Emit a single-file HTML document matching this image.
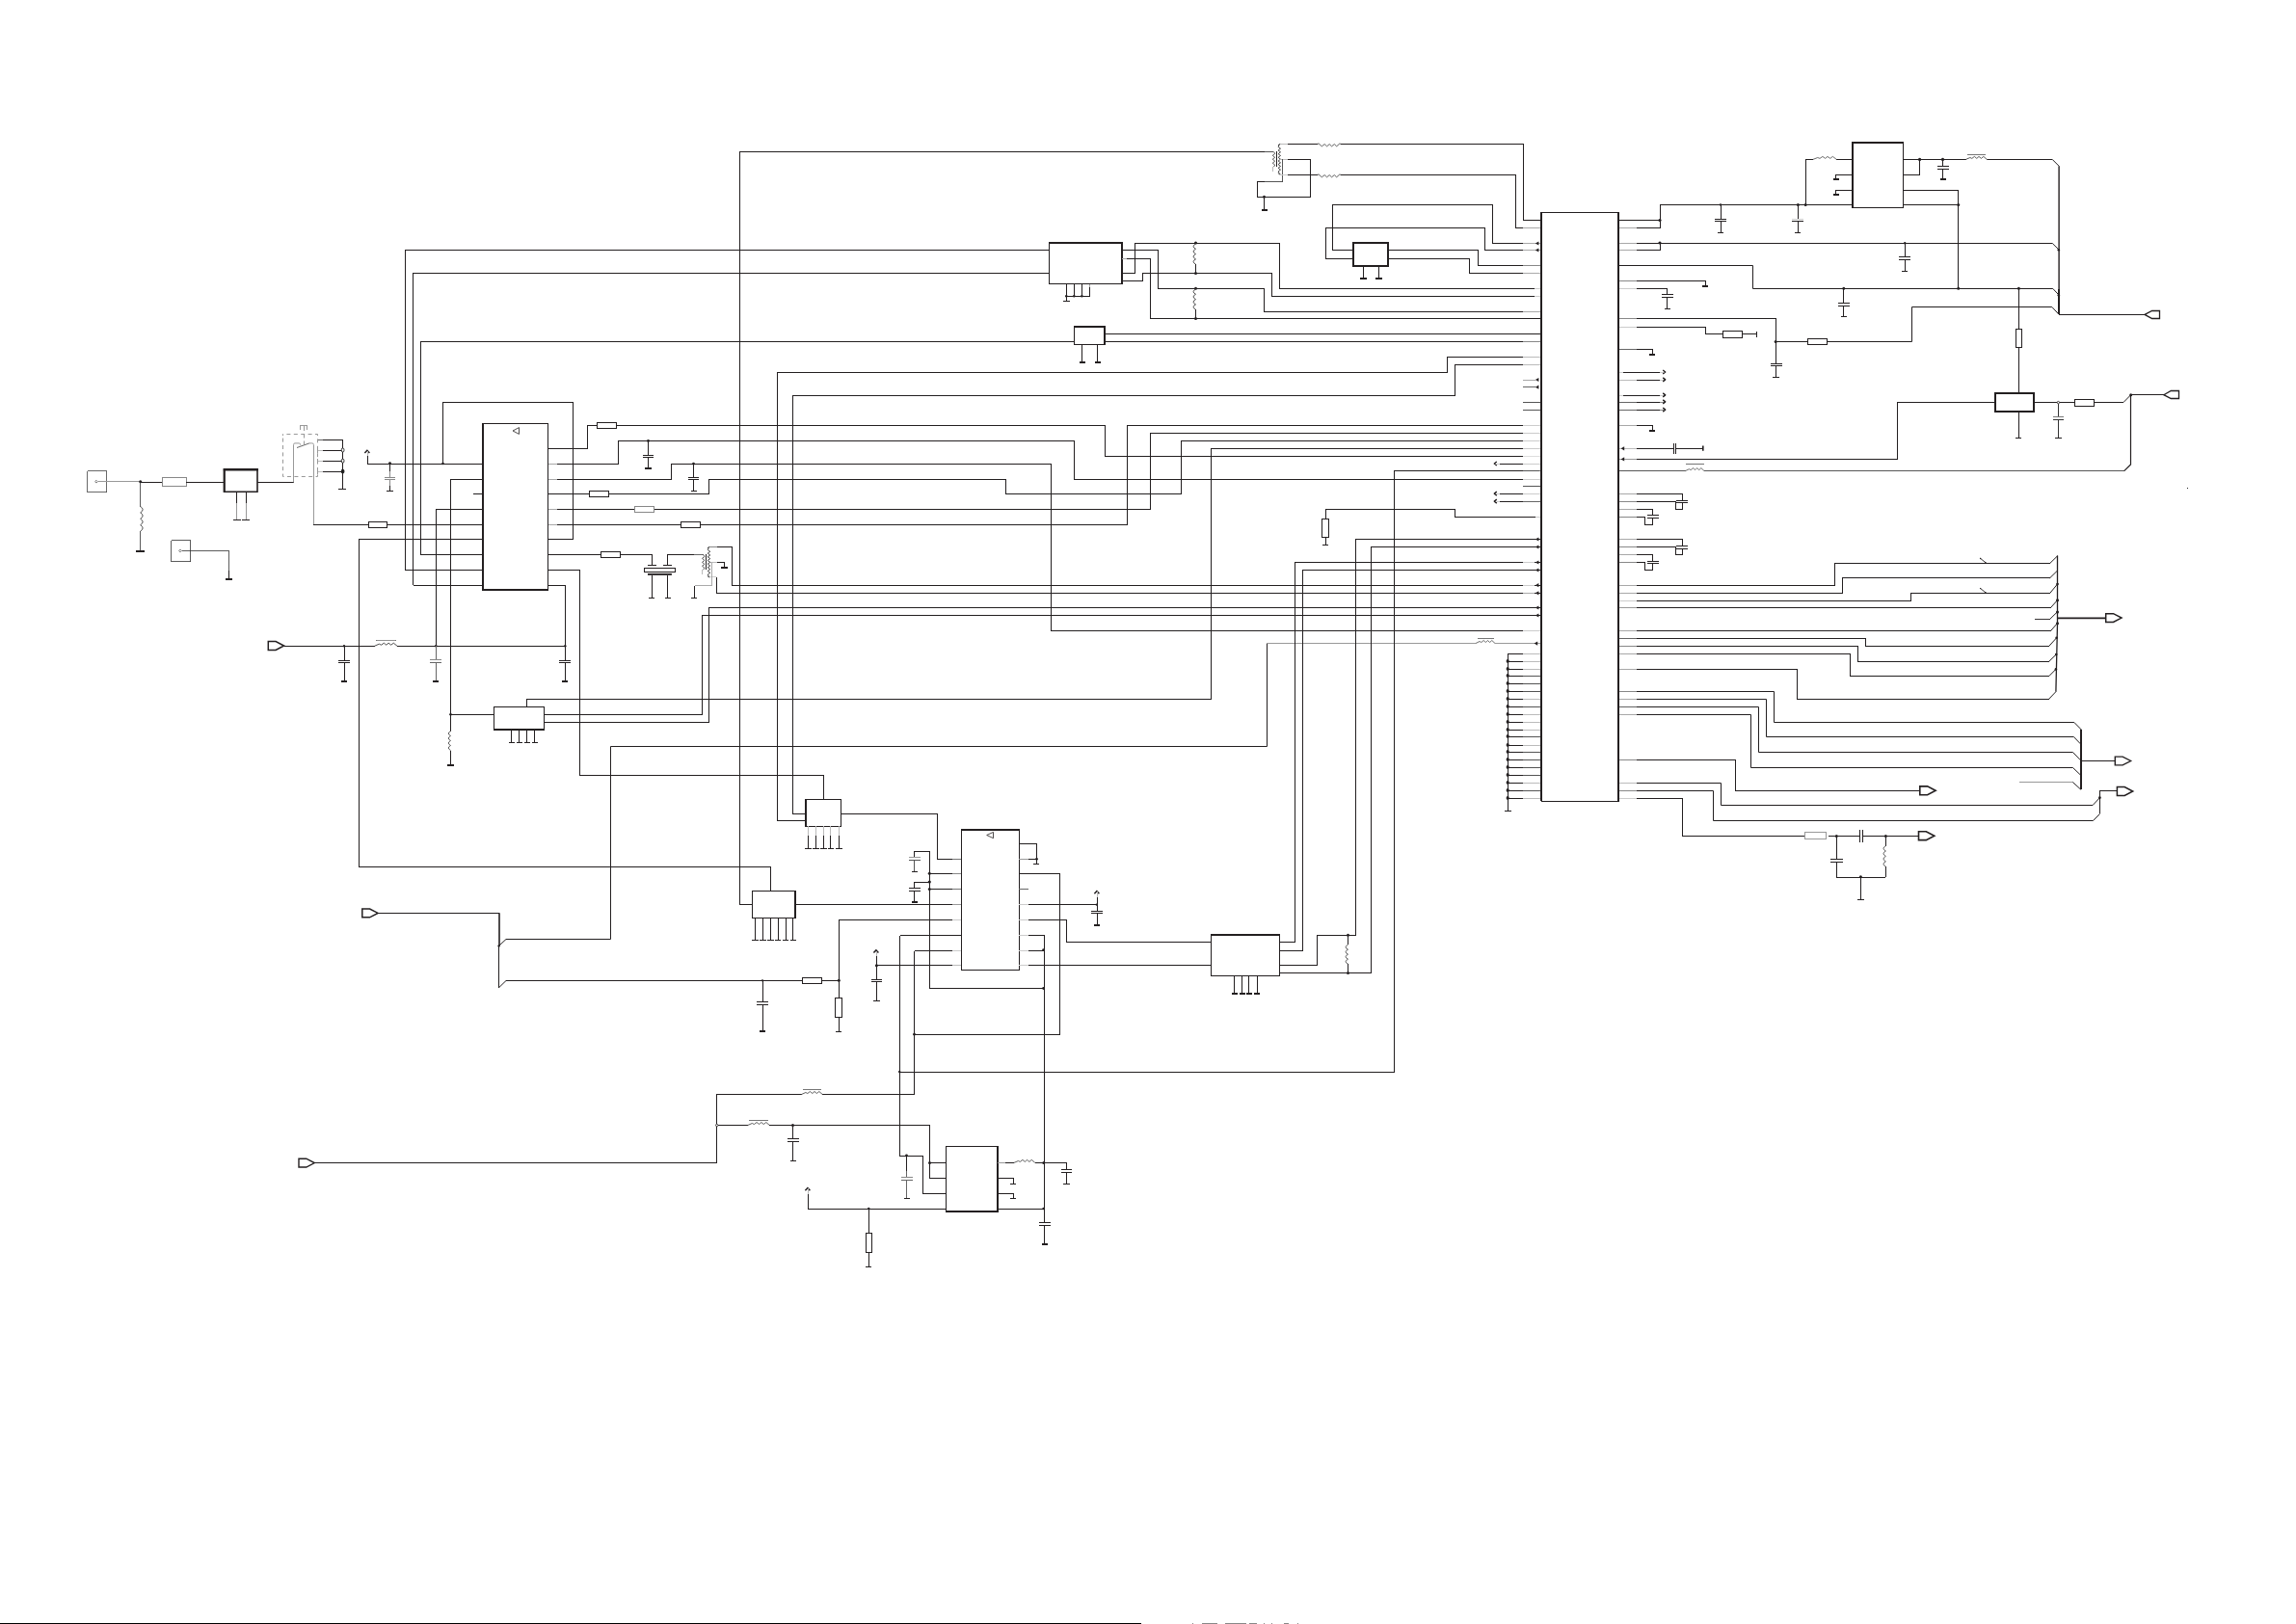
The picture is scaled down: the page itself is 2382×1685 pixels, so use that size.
<!DOCTYPE html><html><head><meta charset="utf-8"><title>Schematic</title><style>html,body{margin:0;padding:0;background:#fff;font-family:"Liberation Sans",sans-serif}svg{display:block}.c{shape-rendering:crispEdges}</style></head><body><svg width="2382" height="1685" viewBox="0 0 2382 1685" fill="none" stroke="#231f20" stroke-width="1" stroke-linecap="butt" stroke-linejoin="miter">
<path d="M1599.5 220.5 1679.5 220.5 1679.5 831.5 1599.5 831.5Z" class="c" stroke-width="1.2"/>
<path d="M1599 220.4 1599 831.3" class="c" stroke-width="2"/>
<path d="M1679 220.4 1679 831.3" class="c" stroke-width="2"/>
<path d="M90.5 488.5 110.5 488.5 110.5 510.5 90.5 510.5Z" class="c" stroke-width="0.8" stroke="#444"/>
<path d="M98.6 499.7 100 498.3 101.4 499.7 100 501.1Z" stroke-width="0.7" stroke="#444"/>
<path d="M101.5 499.5 145.7 499.5" class="c" stroke="#999"/>
<circle cx="145.7" cy="499.8" r="1.5" fill="#231f20" stroke="none"/>
<path d="M145.7 500.5 168 500.5" class="c"/>
<path d="M168.5 495.5 193.5 495.5 193.5 504.5 168.5 504.5Z" class="c" stroke="#888"/>
<path d="M193.2 500.5 232.5 500.5" class="c"/>
<path d="M145.5 499.8 145.5 525.5" class="c" stroke-width="0.8" stroke="#333"/>
<path d="M145.7 525.5 q4.8 3.2 0 6.4 q4.8 3.2 0 6.4 q4.8 3.2 0 6.4 q4.8 3.2 0 6.4" stroke="#444" stroke-width="0.95"/>
<path d="M145.5 551 145.5 571.7" class="c" stroke-width="0.8" stroke="#333"/>
<path d="M141.3 572 150.1 572" class="c" stroke-width="1.8"/>
<path d="M232.8 487 267 487 267 510.2 232.8 510.2Z" stroke-width="1.6"/>
<path d="M231.8 487.2 267.9 487.2" stroke-width="2.4"/>
<path d="M232.6 486.2 232.6 510.9" stroke-width="2"/>
<path d="M245.5 510.2 245.5 522" class="c"/>
<path d="M245.5 522 245.5 539.2" class="c" stroke="#999"/>
<path d="M241.5 539.5 249.5 539.5" class="c"/>
<path d="M255.5 510.2 255.5 522" class="c"/>
<path d="M255.5 522 255.5 539.2" class="c" stroke="#999"/>
<path d="M251.2 539.5 259.2 539.5" class="c"/>
<path d="M267.2 500.5 304.9 500.5" class="c"/>
<path d="M293.5 452V450.5H329.5V494.5H293.5V452" stroke="#999" stroke-dasharray="4 3.4" stroke-dashoffset="2"/>
<path d="M311.5 445.6 311.5 441.5 318.5 441.5 318.5 445.6" class="c" stroke="#999"/>
<path d="M315.5 441.5 315.5 446.5" class="c" stroke="#999"/>
<path d="M315.5 450.5V461" stroke="#999" stroke-dasharray="4 3"/>
<path d="M304.5 500.4V461.5Q304.5 459.9 306 459.9H310.2Q311.7 459.9 311.7 461.7" stroke="#999"/>
<path d="M308 464.5 320.9 459.9" stroke-width="0.9" stroke="#555"/>
<path d="M320.9 459.9H323.7Q325.5 459.9 325.5 461.5V544.2" stroke="#999"/>
<path d="M329.5 456.5 334.9 456.5" class="c" stroke="#666"/>
<path d="M334.9 456.5 355.6 456.5" class="c"/>
<path d="M329.5 467.5 334.9 467.5" class="c" stroke="#bbb"/>
<path d="M334.9 467.5 355.6 467.5" class="c"/>
<path d="M329.5 478.5 334.9 478.5" class="c" stroke="#bbb"/>
<path d="M334.9 478.5 355.6 478.5" class="c"/>
<path d="M329.5 489.5 334.9 489.5" class="c" stroke="#bbb"/>
<path d="M334.9 489.5 355.6 489.5" class="c"/>
<path d="M329.5 464.6 329.5 470" class="c" stroke="#999"/>
<path d="M329.5 475.8 329.5 481.2" class="c" stroke="#999"/>
<path d="M329.5 486.6 329.5 492" class="c" stroke="#999"/>
<path d="M355.5 456.5 355.5 507.4" class="c"/>
<rect x="354.3" y="465.1" width="2.6" height="3.8" rx="1.1" fill="#fff" stroke="#1c1c1c" stroke-width="0.9"/>
<rect x="354.3" y="476.3" width="2.6" height="3.8" rx="1.1" fill="#fff" stroke="#1c1c1c" stroke-width="0.9"/>
<rect x="354.3" y="487.2" width="2.6" height="3.8" rx="1.1" fill="#1c1c1c" stroke="#1c1c1c" stroke-width="0.9"/>
<path d="M351.2 507.5 359.2 507.5" class="c"/>
<path d="M177.5 560.5 197.5 560.5 197.5 582.5 177.5 582.5Z" class="c" stroke-width="0.8" stroke="#333"/>
<path d="M185.6 571.5 187 570.1 188.4 571.5 187 572.9Z" stroke-width="0.7" stroke="#444"/>
<path d="M188.5 571.5 237.5 571.5 237.5 592" class="c" stroke-width="0.8" stroke="#333"/>
<path d="M237.5 592 237.5 600.6" class="c"/>
<path d="M234.1 601 240.9 601" class="c" stroke-width="1.8"/>
<path d="M378.4 470L380.9 467.3L383.4 470" stroke="#231f20" stroke-width="1.5" stroke-linejoin="miter"/>
<path d="M381.5 468.2 381.5 473.4" class="c" stroke="#bbb"/>
<path d="M381.5 473.4 381.5 481" class="c"/>
<path d="M381.2 481.5 501.2 481.5" class="c"/>
<circle cx="404.5" cy="480.6" r="1.4" fill="#231f20" stroke="none"/>
<circle cx="459.5" cy="481" r="1.3" fill="#231f20" stroke="none"/>
<path d="M404.5 481 404.5 488.5" class="c"/>
<path d="M404.5 488.5 404.5 504" class="c" stroke="#888"/>
<path d="M398.6 495.5 409.9 495.5" class="c" stroke="#888"/>
<path d="M398.6 497.5 409.9 497.5" class="c" stroke="#888"/>
<rect x="403.5" y="496.1" width="2" height="1" fill="#fff" stroke="none"/>
<path d="M404.5 504 404.5 509.6" class="c"/>
<path d="M401 509.5 407.8 509.5" class="c"/>
<path d="M459.5 481 459.5 417.5 594.5 417.5 594.5 559.5 568.5 559.5" class="c"/>
<path d="M501.5 439.5 568.5 439.5 568.5 612.5 501.5 612.5Z" class="c" stroke-width="1.3"/>
<path d="M501 439.2 501 612 568.5 612" class="c" stroke-width="2"/>
<path d="M538.5 443.6 538.5 450.4 532 447Z" stroke-width="0.8"/>
<path d="M420.5 591.5 501.2 591.5" class="c"/>
<path d="M420.5 591.5 420.5 259.5 1088.5 259.5" class="c"/>
<path d="M428.5 607.5 501.2 607.5" class="c"/>
<path d="M428.5 607.2 428.5 283.5 1088.5 283.5" class="c"/>
<path d="M436.5 575.5 501.2 575.5" class="c"/>
<path d="M436.5 575.5 436.5 354.5 1114.5 354.5" class="c"/>
<path d="M467.5 497.5 501.2 497.5" class="c"/>
<path d="M467.5 497.2 467.5 758.5" class="c"/>
<path d="M467.5 758.5 q-4.4 2.5 0 5 q-4.4 2.5 0 5 q-4.4 2.5 0 5 q-4.4 2.5 0 5" stroke="#555" stroke-width="0.95"/>
<path d="M467.5 778.5 467.5 793.6" class="c"/>
<path d="M464.1 794 470.9 794" class="c" stroke-width="1.8"/>
<path d="M491.2 512.5 501.2 512.5" class="c"/>
<path d="M452.5 528.5 501.2 528.5" class="c"/>
<path d="M452.5 528.2 452.5 670.2" class="c"/>
<path d="M325.2 544.5 362 544.5" class="c" stroke-width="1.3"/>
<path d="M362 544.5 382.5 544.5" class="c"/>
<path d="M382.5 541.5 401.5 541.5 401.5 547.5 382.5 547.5Z" class="c"/>
<path d="M401.5 544.5 501.2 544.5" class="c"/>
<path d="M372.5 559.5 501.2 559.5" class="c"/>
<path d="M372.5 559.2 372.5 899.5 799.5 899.5 799.5 924.5" class="c"/>
<path d="M568.5 465.5 609.5 465.5 609.5 441.5 619.2 441.5" class="c"/>
<path d="M619.5 438.5 639.5 438.5 639.5 444.5 619.5 444.5Z" class="c"/>
<path d="M639.7 441.5 1146.5 441.5 1146.5 473.5 1599 473.5" class="c"/>
<path d="M568.5 481.5 578 481.5" class="c" stroke="#a8a8a8"/>
<path d="M578 481.5 641.5 481.5 641.5 457.5 1114.5 457.5 1114.5 497.5 1599 497.5" class="c"/>
<circle cx="672.5" cy="457.5" r="1.4" fill="#231f20" stroke="none"/>
<path d="M672.5 457.5 672.5 472.3" class="c"/>
<path d="M667 472.5 678 472.5" class="c"/>
<path d="M667 474.5 678 474.5" class="c"/>
<path d="M672.5 474.8 672.5 486" class="c"/>
<path d="M669.1 486 675.9 486" class="c" stroke-width="1.8"/>
<path d="M568.5 497.5 578 497.5" class="c" stroke="#a8a8a8"/>
<path d="M578 497.5 696.5 497.5 696.5 481.5 1090.5 481.5 1090.5 654.5 1599 654.5" class="c"/>
<circle cx="719.5" cy="481.2" r="1.4" fill="#231f20" stroke="none"/>
<path d="M719.5 481.2 719.5 495.3" class="c"/>
<path d="M713.7 495.5 725.3 495.5" class="c"/>
<path d="M713.7 497.5 725.3 497.5" class="c"/>
<path d="M719.5 497.8 719.5 509.3" class="c"/>
<path d="M716.5 509.5 722.5 509.5" class="c"/>
<path d="M568.5 512.5 611.2 512.5" class="c"/>
<path d="M611.5 509.5 631.5 509.5 631.5 515.5 611.5 515.5Z" class="c"/>
<path d="M631.7 512.5 735.5 512.5 735.5 497.5 1043.5 497.5 1043.5 512.5 1225.5 512.5 1225.5 457.5 1599 457.5" class="c"/>
<path d="M568.5 528.5 578 528.5" class="c" stroke="#a8a8a8"/>
<path d="M578 528.5 658.2 528.5" class="c"/>
<path d="M658.5 525.5 678.5 525.5 678.5 531.5 658.5 531.5Z" class="c" stroke="#888"/>
<path d="M678.5 528.5 1193.5 528.5 1193.5 449.5 1599 449.5" class="c"/>
<path d="M568.5 544.5 578 544.5" class="c" stroke="#a8a8a8"/>
<path d="M578 544.5 706.5 544.5" class="c"/>
<path d="M706.5 541.5 726.5 541.5 726.5 547.5 706.5 547.5Z" class="c"/>
<path d="M726.7 544.5 1169.5 544.5 1169.5 441.5 1599 441.5" class="c"/>
<path d="M568.5 575.5 623.2 575.5" class="c"/>
<path d="M623.5 572.5 643.5 572.5 643.5 578.5 623.5 578.5Z" class="c"/>
<path d="M643.7 575.5 676.5 575.5 676.5 586.4" class="c"/>
<path d="M568.5 591.5 601.5 591.5 601.5 804.5 854.5 804.5 854.5 829.5" class="c"/>
<path d="M568.5 607.5 586.5 607.5 586.5 670.2" class="c"/>
<path d="M672 586.5 680.9 586.5" class="c"/>
<path d="M688 586.5 697 586.5" class="c"/>
<path d="M668.5 589.5 700.5 589.5 700.5 593.5 668.5 593.5Z" class="c"/>
<path d="M672 595.9 696.9 595.9" stroke-width="1.9"/>
<path d="M676.5 596.5 676.5 620.4" class="c"/>
<path d="M673.4 620.5 679.4 620.5" class="c"/>
<path d="M692.5 596.5 692.5 620.4" class="c"/>
<path d="M689.6 620.5 695.6 620.5" class="c"/>
<path d="M692.5 586.4 692.5 575.5 720 575.5" class="c"/>
<path d="M720 575.5 730 575.5" class="c" stroke="#666"/>
<path d="M729.7 575.5 L730.9 577.5 L728.5 579.4 L730.9 581.4 L728.5 583.4 L730.9 585.3 L728.5 587.3 L730.9 589.2 L729.7 591.2" stroke="#444" stroke-width="0.9" stroke-linejoin="round"/>
<path d="M728.5 591.2 728.5 595.8" class="c" stroke="#bbb"/>
<path d="M732.5 575.2 732.5 591.2" class="c" stroke-width="1.2"/>
<path d="M735.5 568.6 L734.2 570.4 L736.8 572.3 L734.2 574.1 L736.8 576 L734.2 577.8 L736.8 579.6 L734.2 581.5 L736.8 583.3 L734.2 585.1 L736.8 587 L734.2 588.8 L736.8 590.6 L734.2 592.5 L736.8 594.3 L734.2 596.2 L735.5 598" stroke="#333" stroke-width="0.9" stroke-linejoin="round"/>
<path d="M736.4 567.5Q734.3 567.5 734.3 569" stroke="#333" stroke-width="0.95"/>
<path d="M736.4 598.9Q734.3 598.9 734.3 597.6" stroke="#333" stroke-width="0.95"/>
<path d="M736.2 567.5 743.9 567.5" class="c" stroke="#888"/>
<path d="M743.9 567.5 759.5 567.5 759.5 607.5 1599 607.5" class="c"/>
<path d="M736.6 583.5 743.9 583.5" class="c" stroke="#bbb"/>
<path d="M743.9 583.5 751.5 583.5 751.5 589" class="c"/>
<path d="M748.2 589 754.9 589" class="c" stroke-width="1.9"/>
<path d="M736.2 598.5 743.4 598.5" class="c" stroke="#ccc"/>
<path d="M743.5 599 743.5 615.5 1599 615.5" class="c"/>
<path d="M738.5 583.4 738.5 607.5 720.5 607.5" class="c" stroke="#aaa"/>
<path d="M720.5 607.5 720.5 620.4" class="c"/>
<path d="M717.2 620.5 723.2 620.5" class="c"/>
<path d="M278.3 665.6 286.1 665.6 294.6 670 286.1 674.4 278.3 674.4Z" stroke-width="1.5"/>
<path d="M294.6 670.5 388.7 670.5" class="c"/>
<path d="M388.7 670.2 L393.4 668.2 L395.5 669.2 L398.3 667.2 L400.8 669.2 L403.1 667.2 L405.7 669.2 L408.3 667.2 L412 670.2" stroke="#444" stroke-width="0.95" stroke-linejoin="round"/>
<path d="M390.2 664.5 410.5 664.5" class="c" stroke-width="0.9" stroke="#666"/>
<path d="M390.7 664.5 410 664.5" class="c" stroke-width="0.8" stroke="#999"/>
<path d="M412 670.5 586.5 670.5" class="c"/>
<circle cx="357" cy="670.2" r="1.2" fill="#231f20" stroke="none"/>
<circle cx="452.3" cy="670.2" r="1.3" fill="#231f20" stroke="none"/>
<circle cx="586.3" cy="670.2" r="1.2" fill="#231f20" stroke="none"/>
<path d="M357.5 670.2 357.5 685.3" class="c"/>
<path d="M351.1 685.5 362.9 685.5" class="c"/>
<path d="M351.1 687.5 362.9 687.5" class="c"/>
<path d="M357.5 687.8 357.5 706.8" class="c"/>
<path d="M354 707 360 707" class="c" stroke-width="1.8"/>
<path d="M452.5 670.2 452.5 684.3" class="c" stroke="#666"/>
<path d="M446.4 684.5 458.2 684.5" class="c" stroke="#888"/>
<path d="M446.4 687.5 458.2 687.5" class="c" stroke="#666"/>
<path d="M452.5 687.3 452.5 706.8" class="c" stroke="#666"/>
<path d="M449.3 707 455.3 707" class="c" stroke-width="1.8"/>
<path d="M586.5 670.2 586.5 685.3" class="c"/>
<path d="M580.4 685.5 592.2 685.5" class="c"/>
<path d="M580.4 687.5 592.2 687.5" class="c"/>
<path d="M586.5 687.8 586.5 706.8" class="c"/>
<path d="M583.3 707 589.3 707" class="c" stroke-width="1.8"/>
<path d="M512.5 733.5 564.5 733.5 564.5 757.5 512.5 757.5Z" class="c"/>
<path d="M512.5 757 564.5 757" class="c" stroke-width="2"/>
<path d="M467.5 741.5 512.5 741.5" class="c"/>
<circle cx="467.5" cy="741.2" r="1.3" fill="#231f20" stroke="none"/>
<path d="M546.5 733.6 546.5 725.5 1256.5 725.5 1256.5 465.5 1599 465.5" class="c"/>
<path d="M564.5 741.5 728.5 741.5 728.5 638.5 1599 638.5" class="c"/>
<path d="M564.5 749.5 735.5 749.5 735.5 630.5 1599 630.5" class="c"/>
<path d="M530.5 757.2 530.5 770.5" class="c"/>
<path d="M527.7 770.5 533.7 770.5" class="c"/>
<path d="M538.5 757.2 538.5 770.5" class="c"/>
<path d="M535.7 770.5 541.7 770.5" class="c"/>
<path d="M546.5 757.2 546.5 770.5" class="c"/>
<path d="M543.5 770.5 549.5 770.5" class="c"/>
<path d="M554.5 757.2 554.5 770.5" class="c"/>
<path d="M551.5 770.5 557.5 770.5" class="c"/>
<path d="M1320.5 157.5 767.5 157.5 767.5 938.5 780.5 938.5" class="c"/>
<path d="M806.5 851.5 806.5 386.5 1501.5 386.5 1501.5 370.5 1599 370.5" class="c"/>
<path d="M806.7 851.5 835.7 851.5" class="c"/>
<path d="M822.5 844.5 822.5 410.5 1509.5 410.5 1509.5 378.5 1599 378.5" class="c"/>
<path d="M822.5 844.5 835.7 844.5" class="c"/>
<path d="M517.8 981.2 525 974.5 633.5 974.5 633.5 774.5 1314.5 774.5 1314.5 667.5"/>
<path d="M1314.5 667.5 1531 667.5" class="c" stroke="#999"/>
<path d="M1531 667.5 L1535 665.5 L1536.8 666.5 L1539.2 664.5 L1541.4 666.5 L1543.4 664.5 L1545.6 666.5 L1547.8 664.5 L1551 667.5" stroke="#666" stroke-width="0.95" stroke-linejoin="round"/>
<path d="M1532.5 662.5 1549.5 662.5" class="c" stroke-width="0.9" stroke="#666"/>
<path d="M1551 667.5 1598 667.5" class="c" stroke="#999"/>
<path d="M1088.5 251.5 1164.5 251.5 1164.5 294.5 1088.5 294.5Z" class="c"/>
<path d="M1088.4 252 1164 252 1164 294.5" class="c" stroke-width="2"/>
<path d="M1106.5 294.5 1106.5 307.3" class="c"/>
<circle cx="1106.3" cy="307.3" r="1.3" fill="#231f20" stroke="none"/>
<path d="M1114.5 294.5 1114.5 307.3" class="c"/>
<circle cx="1114.3" cy="307.3" r="1.3" fill="#231f20" stroke="none"/>
<path d="M1122.5 294.5 1122.5 307.3" class="c"/>
<circle cx="1122.4" cy="307.3" r="1.3" fill="#231f20" stroke="none"/>
<path d="M1130.5 294.5 1130.5 298" class="c" stroke="#a8a8a8"/>
<path d="M1130.5 298 1130.5 307.5 1106.3 307.5" class="c"/>
<path d="M1106.5 307.3 1106.5 312.6" class="c"/>
<path d="M1102.9 312.5 1109.7 312.5" class="c"/>
<path d="M1164.2 259.5 1201.5 259.5 1201.5 299.5 1311.5 299.5 1311.5 323.5 1580 323.5" class="c"/>
<path d="M1580 323.5 1598 323.5" class="c" stroke="#a8a8a8"/>
<path d="M1164.2 268.5 1168.5 268.5" class="c" stroke="#a8a8a8"/>
<path d="M1168.5 268.5 1193.5 268.5 1193.5 330.5 1599 330.5" class="c"/>
<path d="M1164.2 283.5 1177.5 283.5 1177.5 252.5 1327.5 252.5 1327.5 299.5 1592 299.5" class="c"/>
<path d="M1592 299.5 1598 299.5" class="c" stroke="#ccc"/>
<path d="M1164.2 291.5 1185.5 291.5 1185.5 283.5 1319.5 283.5 1319.5 307.5 1592 307.5" class="c"/>
<path d="M1592 307.5 1598 307.5" class="c" stroke="#ccc"/>
<circle cx="1240.5" cy="252" r="1.5" fill="#231f20" stroke="none"/>
<circle cx="1240.5" cy="283.5" r="1.5" fill="#231f20" stroke="none"/>
<path d="M1240.5 253 q-4.8 2.6 0 5.3 q-4.8 2.6 0 5.3 q-4.8 2.6 0 5.3 q-4.8 2.6 0 5.3" stroke="#444" stroke-width="0.95"/>
<path d="M1240.5 274.2 1240.5 283.5" class="c"/>
<circle cx="1240.5" cy="299.2" r="1.5" fill="#231f20" stroke="none"/>
<circle cx="1240.5" cy="330.5" r="1.5" fill="#231f20" stroke="none"/>
<path d="M1240.5 300 q-4.8 2.6 0 5.3 q-4.8 2.6 0 5.3 q-4.8 2.6 0 5.3 q-4.8 2.6 0 5.3" stroke="#444" stroke-width="0.95"/>
<path d="M1240.5 321.2 1240.5 330.5" class="c"/>
<path d="M1114.5 338.5 1146.5 338.5 1146.5 357.5 1114.5 357.5Z" class="c"/>
<path d="M1114.5 339 1146 339 1146 357.4" class="c" stroke-width="2"/>
<path d="M1122.5 357.4 1122.5 375.8" class="c"/>
<path d="M1119.7 376 1125.5 376" class="c" stroke-width="1.8"/>
<path d="M1138.5 357.4 1138.5 375.8" class="c"/>
<path d="M1135.7 376 1141.5 376" class="c" stroke-width="1.8"/>
<path d="M1146 346.5 1599 346.5" class="c"/>
<path d="M1146 354.5 1580 354.5" class="c"/>
<path d="M1580 354.5 1598 354.5" class="c" stroke="#888"/>
<path d="M1312 157.5 1320.9 157.5" class="c" stroke="#555"/>
<path d="M1321.5 157.4 L1322.7 159.4 L1320.3 161.3 L1322.7 163.3 L1320.3 165.2 L1322.7 167.2 L1320.3 169.2 L1322.7 171.1 L1321.5 173.1" stroke="#444" stroke-width="0.9" stroke-linejoin="round"/>
<path d="M1320.5 173.1 1320.5 178" class="c" stroke="#bbb"/>
<path d="M1324.5 157.2 1324.5 172.8" class="c" stroke-width="1.2"/>
<path d="M1327.3 150.5 L1326.1 152.3 L1328.5 154.2 L1326.1 156 L1328.5 157.8 L1326.1 159.7 L1328.5 161.5 L1326.1 163.3 L1328.5 165.2 L1326.1 167 L1328.5 168.8 L1326.1 170.6 L1328.5 172.5 L1326.1 174.3 L1328.5 176.1 L1326.1 178 L1327.3 179.8" stroke="#333" stroke-width="0.9" stroke-linejoin="round"/>
<path d="M1328.6 149.4Q1326.3 149.4 1326.3 151" stroke="#333" stroke-width="0.95"/>
<path d="M1328.6 181Q1326.3 181 1326.3 179.5" stroke="#333" stroke-width="0.95"/>
<path d="M1328.4 149.5 1335.7 149.5" class="c" stroke="#bbb"/>
<path d="M1335.7 149.5 1367 149.5" class="c"/>
<path d="M1367 149.4 L1368 148.8 L1371.3 151.8 L1374.2 149.6 L1376.6 151.8 L1379.2 149.6 L1381.6 151.8 L1384.3 149.6 L1386.7 151.8 L1389.8 149 L1391 149.4" stroke="#555" stroke-width="0.95" stroke-linejoin="round"/>
<path d="M1391 149.5 1580.5 149.5 1580.5 228.5 1599 228.5" class="c"/>
<path d="M1328.4 165.5 1335.7 165.5" class="c" stroke="#bbb"/>
<path d="M1335.7 165.5 1359.5 165.5 1359.5 204.5 1304.5 204.5 1304.5 188.5 1312 188.5" class="c"/>
<path d="M1312 188.5 1330.5 188.5 1330.5 165.3" class="c" stroke-width="0.9" stroke="#444"/>
<path d="M1328.4 181.5 1335.7 181.5" class="c" stroke="#ccc"/>
<path d="M1336.1 181.5 1367 181.5" class="c"/>
<path d="M1367 181.4 L1368 180.8 L1371.3 183.8 L1374.2 181.6 L1376.6 183.8 L1379.2 181.6 L1381.6 183.8 L1384.3 181.6 L1386.7 183.8 L1389.8 181 L1391 181.4" stroke="#555" stroke-width="0.95" stroke-linejoin="round"/>
<path d="M1391 181.5 1572.5 181.5 1572.5 236.5 1580 236.5" class="c"/>
<path d="M1580 236.5 1598 236.5" class="c" stroke="#a8a8a8"/>
<circle cx="1311.5" cy="204.3" r="1.5" fill="#231f20" stroke="none"/>
<path d="M1311.5 204.3 1311.5 218" class="c"/>
<path d="M1308.5 218 1314.5 218" class="c" stroke-width="1.8"/>
<path d="M1404 252 1440 252 1440 276 1404 276Z" class="c" stroke-width="2"/>
<path d="M1414.5 276.3 1414.5 288.8" class="c"/>
<path d="M1411.3 289 1417.7 289" class="c" stroke-width="1.8"/>
<path d="M1430.5 276.3 1430.5 288.8" class="c"/>
<path d="M1427.3 289 1433.7 289" class="c" stroke-width="1.8"/>
<path d="M1403.7 259.5 1382.5 259.5 1382.5 212.5 1548.5 212.5 1548.5 252.5 1580 252.5" class="c"/>
<path d="M1580 252.5 1598 252.5" class="c" stroke="#a8a8a8"/>
<path d="M1592.8 252.5l3.6 -2.1v4.2z" fill="#231f20" stroke="none"/>
<path d="M1403.7 268.5 1375.5 268.5 1375.5 236.5 1540.5 236.5 1540.5 259.5 1580 259.5" class="c"/>
<path d="M1580 259.5 1598 259.5" class="c" stroke="#a8a8a8"/>
<path d="M1592.8 259.5l3.6 -2.1v4.2z" fill="#231f20" stroke="none"/>
<path d="M1440 259.5 1533.5 259.5 1533.5 275.5 1580 275.5" class="c"/>
<path d="M1580 275.5 1598 275.5" class="c" stroke="#888"/>
<path d="M1440 268.5 1524.5 268.5 1524.5 283.5 1599 283.5" class="c"/>
<path d="M1580 394.5 1592.8 394.5" class="c" stroke="#a8a8a8"/>
<path d="M1592.8 394l3.6 -2.1v4.2z" fill="#231f20" stroke="none"/>
<path d="M1580 401.5 1592.8 401.5" class="c" stroke="#666"/>
<path d="M1592.8 401.7l3.6 -2.1v4.2z" fill="#231f20" stroke="none"/>
<path d="M1580 417.5 1599 417.5" class="c" stroke="#555"/>
<path d="M1580 425.5 1599 425.5" class="c" stroke="#555"/>
<path d="M1580 504.5 1599 504.5" class="c" stroke="#555"/>
<path d="M1580 481.5 1599 481.5" class="c" stroke="#ccc"/>
<path d="M1556.3 481.5 1580 481.5" class="c"/>
<path d="M1553 481.5 1556.3 481.5" class="c" stroke="#ccc"/>
<path d="M1552.8 479L1550.3 481L1552.8 483" stroke="#231f20" stroke-width="1.4" stroke-linejoin="round"/>
<path d="M1580 512.5 1599 512.5" class="c" stroke="#ccc"/>
<path d="M1556.3 512.5 1580 512.5" class="c"/>
<path d="M1553 512.5 1556.3 512.5" class="c" stroke="#ccc"/>
<path d="M1552.8 510.1L1550.3 512.1L1552.8 514.1" stroke="#231f20" stroke-width="1.4" stroke-linejoin="round"/>
<path d="M1580 520.5 1599 520.5" class="c" stroke="#666"/>
<path d="M1556.3 520.5 1580 520.5" class="c"/>
<path d="M1553 520.5 1556.3 520.5" class="c" stroke="#ccc"/>
<path d="M1552.8 518.1L1550.3 520.1L1552.8 522.1" stroke="#231f20" stroke-width="1.4" stroke-linejoin="round"/>
<path d="M1593 536.5 1599 536.5" class="c" stroke="#ccc"/>
<path d="M1593 536.5 1509.5 536.5 1509.5 528.5 1375.5 528.5 1375.5 538.3" class="c"/>
<path d="M1371.5 538.5 1378.5 538.5 1378.5 557.5 1371.5 557.5Z" class="c"/>
<path d="M1375.5 557.5 1375.5 565.3" class="c"/>
<path d="M1372.2 565.5 1378.2 565.5" class="c"/>
<path d="M1592.8 559.5l3.6 -2.1v4.2z" fill="#231f20" stroke="none"/>
<path d="M1592.8 567.5l3.6 -2.1v4.2z" fill="#231f20" stroke="none"/>
<path d="M1592.8 583.5l3.6 -2.1v4.2z" fill="#231f20" stroke="none"/>
<path d="M1592.8 591.5l3.6 -2.1v4.2z" fill="#231f20" stroke="none"/>
<path d="M1592.8 607.2l3.6 -2.1v4.2z" fill="#231f20" stroke="none"/>
<path d="M1592.8 615.3l3.6 -2.1v4.2z" fill="#231f20" stroke="none"/>
<path d="M1592.8 630.5l3.6 -2.1v4.2z" fill="#231f20" stroke="none"/>
<path d="M1592.8 638.5l3.6 -2.1v4.2z" fill="#231f20" stroke="none"/>
<path d="M1591.6 667.6l3.6 -2.1v4.2z" fill="#231f20" stroke="none"/>
<path d="M1564.5 678.2 1564.5 841.3" class="c"/>
<path d="M1561.1 841.5 1567.5 841.5" class="c"/>
<path d="M1564.6 678.5 1580 678.5" class="c"/>
<path d="M1580 678.5 1599 678.5" class="c" stroke="#bbb"/>
<path d="M1564.6 686.5 1580 686.5" class="c"/>
<path d="M1580 686.5 1599 686.5" class="c" stroke="#bbb"/>
<ellipse cx="1564.2" cy="685.9" rx="1.55" ry="1.85" fill="#231f20" stroke="none"/>
<path d="M1564.6 694.5 1580 694.5" class="c"/>
<path d="M1580 694.5 1599 694.5" class="c" stroke="#bbb"/>
<ellipse cx="1564.2" cy="693.9" rx="1.55" ry="1.85" fill="#231f20" stroke="none"/>
<path d="M1564.6 701.5 1580 701.5" class="c"/>
<path d="M1580 701.5 1599 701.5" class="c" stroke="#555"/>
<ellipse cx="1564.2" cy="700.9" rx="1.55" ry="1.85" fill="#231f20" stroke="none"/>
<path d="M1564.6 709.5 1580 709.5" class="c"/>
<path d="M1580 709.5 1599 709.5" class="c" stroke="#555"/>
<ellipse cx="1564.2" cy="708.9" rx="1.55" ry="1.85" fill="#231f20" stroke="none"/>
<path d="M1564.6 717.5 1580 717.5" class="c"/>
<path d="M1580 717.5 1599 717.5" class="c" stroke="#555"/>
<ellipse cx="1564.2" cy="716.9" rx="1.55" ry="1.85" fill="#231f20" stroke="none"/>
<path d="M1564.6 725.5 1580 725.5" class="c"/>
<path d="M1580 725.5 1599 725.5" class="c" stroke="#bbb"/>
<ellipse cx="1564.2" cy="724.9" rx="1.55" ry="1.85" fill="#231f20" stroke="none"/>
<path d="M1564.6 733.5 1580 733.5" class="c"/>
<path d="M1580 733.5 1599 733.5" class="c" stroke="#555"/>
<ellipse cx="1564.2" cy="732.9" rx="1.55" ry="1.85" fill="#231f20" stroke="none"/>
<path d="M1564.6 741.5 1580 741.5" class="c"/>
<path d="M1580 741.5 1599 741.5" class="c" stroke="#bbb"/>
<ellipse cx="1564.2" cy="740.9" rx="1.55" ry="1.85" fill="#231f20" stroke="none"/>
<path d="M1564.6 749.5 1580 749.5" class="c"/>
<path d="M1580 749.5 1599 749.5" class="c" stroke="#bbb"/>
<ellipse cx="1564.2" cy="748.9" rx="1.55" ry="1.85" fill="#231f20" stroke="none"/>
<path d="M1564.6 757.5 1580 757.5" class="c"/>
<path d="M1580 757.5 1599 757.5" class="c" stroke="#bbb"/>
<ellipse cx="1564.2" cy="756.9" rx="1.55" ry="1.85" fill="#231f20" stroke="none"/>
<path d="M1564.6 764.5 1580 764.5" class="c"/>
<path d="M1580 764.5 1599 764.5" class="c" stroke="#555"/>
<ellipse cx="1564.2" cy="763.9" rx="1.55" ry="1.85" fill="#231f20" stroke="none"/>
<path d="M1564.6 773.5 1580 773.5" class="c"/>
<path d="M1580 773.5 1599 773.5" class="c" stroke="#bbb"/>
<ellipse cx="1564.2" cy="772.9" rx="1.55" ry="1.85" fill="#231f20" stroke="none"/>
<path d="M1564.6 780.5 1580 780.5" class="c"/>
<path d="M1580 780.5 1599 780.5" class="c" stroke="#555"/>
<ellipse cx="1564.2" cy="779.9" rx="1.55" ry="1.85" fill="#231f20" stroke="none"/>
<path d="M1564.6 788.5 1580 788.5" class="c"/>
<path d="M1580 788.5 1599 788.5" class="c" stroke="#555"/>
<ellipse cx="1564.2" cy="787.9" rx="1.55" ry="1.85" fill="#231f20" stroke="none"/>
<path d="M1564.6 796.5 1580 796.5" class="c"/>
<path d="M1580 796.5 1599 796.5" class="c" stroke="#555"/>
<ellipse cx="1564.2" cy="795.9" rx="1.55" ry="1.85" fill="#231f20" stroke="none"/>
<path d="M1564.6 804.5 1580 804.5" class="c"/>
<path d="M1580 804.5 1599 804.5" class="c" stroke="#555"/>
<ellipse cx="1564.2" cy="803.9" rx="1.55" ry="1.85" fill="#231f20" stroke="none"/>
<path d="M1564.6 812.5 1580 812.5" class="c"/>
<path d="M1580 812.5 1599 812.5" class="c" stroke="#bbb"/>
<ellipse cx="1564.2" cy="811.9" rx="1.55" ry="1.85" fill="#231f20" stroke="none"/>
<path d="M1564.6 820.5 1580 820.5" class="c"/>
<path d="M1580 820.5 1599 820.5" class="c" stroke="#555"/>
<ellipse cx="1564.2" cy="819.9" rx="1.55" ry="1.85" fill="#231f20" stroke="none"/>
<path d="M1564.6 828.5 1580 828.5" class="c"/>
<path d="M1580 828.5 1599 828.5" class="c" stroke="#bbb"/>
<ellipse cx="1564.2" cy="827.9" rx="1.55" ry="1.85" fill="#231f20" stroke="none"/>
<path d="M1921.5 147.5 1974.5 147.5 1974.5 215.5 1921.5 215.5Z" class="c"/>
<path d="M1922 215.4 1922 148 1974.7 148" class="c" stroke-width="2"/>
<path d="M1921.9 165.5 1905.3 165.5" class="c"/>
<path d="M1880.9 165.4 L1885.8 163.5 L1888 164.4 L1890.9 162.4 L1893.6 164.4 L1896 162.4 L1898.7 164.4 L1901.4 162.4 L1905.3 165.4" stroke="#666" stroke-width="0.95" stroke-linejoin="round"/>
<path d="M1880.9 165.5 1873.5 165.5 1873.5 212.4" class="c"/>
<path d="M1921.9 181.5 1904.5 181.5 1904.5 185.9" class="c"/>
<path d="M1901.9 186 1907.7 186" class="c" stroke-width="1.8"/>
<path d="M1921.9 197.5 1904.5 197.5 1904.5 202" class="c"/>
<path d="M1901.9 202 1907.7 202" class="c" stroke-width="1.8"/>
<path d="M1679.3 228.5 1722 228.5" class="c"/>
<circle cx="1722" cy="228.5" r="1.6" fill="#231f20" stroke="none"/>
<path d="M1722.5 236.5 1722.5 212.5 1921.9 212.5" class="c"/>
<path d="M1680.3 236.5 1698 236.5" class="c" stroke="#a8a8a8"/>
<path d="M1698 236.5 1722 236.5" class="c"/>
<circle cx="1785" cy="212.4" r="1.2" fill="#231f20" stroke="none"/>
<circle cx="1865.4" cy="212.4" r="1.5" fill="#231f20" stroke="none"/>
<circle cx="1873.2" cy="212.4" r="1.5" fill="#231f20" stroke="none"/>
<path d="M1785.5 212.4 1785.5 227.3" class="c"/>
<path d="M1779 227.5 1791 227.5" class="c"/>
<path d="M1779 229.5 1791 229.5" class="c"/>
<path d="M1785.5 229.9 1785.5 241.5" class="c"/>
<path d="M1782 241.5 1788 241.5" class="c"/>
<path d="M1865.5 212.4 1865.5 227.3" class="c"/>
<path d="M1859.4 227.5 1871.4 227.5" class="c" stroke="#ccc"/>
<path d="M1859.4 229.5 1871.4 229.5" class="c"/>
<path d="M1865.5 229.9 1865.5 241.5" class="c"/>
<path d="M1862.4 241.5 1868.4 241.5" class="c"/>
<path d="M1974.7 165.5 2039.5 165.5" class="c"/>
<circle cx="1991.6" cy="165.4" r="1.6" fill="#231f20" stroke="none"/>
<circle cx="2015.5" cy="165.4" r="1.6" fill="#231f20" stroke="none"/>
<path d="M1974.7 181.5 1991.5 181.5 1991.5 165.4" class="c"/>
<path d="M2015.5 165.4 2015.5 172.3" class="c"/>
<path d="M2009.5 172.5 2021.5 172.5" class="c"/>
<path d="M2009.5 175.5 2021.5 175.5" class="c"/>
<path d="M2015.5 175 2015.5 185.9" class="c"/>
<path d="M2012.5 186 2018.5 186" class="c" stroke-width="1.8"/>
<path d="M2039.5 165.4 L2043.9 163.5 L2045.8 164.4 L2048.4 162.4 L2050.8 164.4 L2053 162.4 L2055.4 164.4 L2057.8 162.4 L2061.3 165.4" stroke="#555" stroke-width="0.95" stroke-linejoin="round"/>
<path d="M2041 160.5 2059.8 160.5" class="c" stroke-width="0.9" stroke="#666"/>
<path d="M2061.3 165.5 2129.3 165.5 2136.1 172.3"/>
<path d="M1974.7 197.5 2031.5 197.5 2031.5 299.3" class="c"/>
<path d="M1974.7 212.5 2031.7 212.5" class="c"/>
<circle cx="2031.7" cy="212.4" r="1.5" fill="#231f20" stroke="none"/>
<circle cx="2031.7" cy="299.3" r="1.5" fill="#231f20" stroke="none"/>
<path d="M2136.1 172.3 2136.1 300" stroke-width="1.4"/>
<path d="M2136 300 2136 326.3" class="c" stroke-width="1.9"/>
<path d="M1680.3 252.5 1698 252.5" class="c" stroke="#a8a8a8"/>
<path d="M1698 252.5 2129.3 252.5 2136.1 259.2"/>
<circle cx="1722" cy="252" r="1.6" fill="#231f20" stroke="none"/>
<circle cx="2135.8" cy="259.2" r="1.3" fill="#231f20" stroke="none"/>
<path d="M1722.5 252.3 1722.5 259.6" class="c"/>
<path d="M1680.3 259.5 1698 259.5" class="c" stroke="#a8a8a8"/>
<path d="M1698 259.5 1722 259.5" class="c"/>
<circle cx="1976.2" cy="252.3" r="1.2" fill="#231f20" stroke="none"/>
<path d="M1976.5 252.3 1976.5 266.4" class="c"/>
<path d="M1970.4 266.5 1982 266.5" class="c"/>
<path d="M1970.4 269.5 1982 269.5" class="c"/>
<path d="M1976.5 269.4 1976.5 281.6" class="c"/>
<path d="M1973.2 281.5 1979.2 281.5" class="c"/>
<path d="M1679.3 275.5 1818.5 275.5 1818.5 299.5 2129.8 299.5 2136.1 306.2"/>
<circle cx="2135.8" cy="306.2" r="1.3" fill="#231f20" stroke="none"/>
<circle cx="1912.8" cy="299.3" r="1.5" fill="#231f20" stroke="none"/>
<path d="M1912.5 299.3 1912.5 314.4" class="c"/>
<path d="M1906.8 314.5 1918.8 314.5" class="c"/>
<path d="M1906.8 317.5 1918.8 317.5" class="c"/>
<path d="M1912.5 317 1912.5 328.3" class="c"/>
<path d="M1909.8 328.5 1915.8 328.5" class="c"/>
<circle cx="2094.4" cy="299.3" r="1.5" fill="#231f20" stroke="none"/>
<path d="M2094.5 299.3 2094.5 341.4" class="c"/>
<path d="M2091.5 341.5 2097.5 341.5 2097.5 360.5 2091.5 360.5Z" class="c"/>
<path d="M2094.5 360.8 2094.5 407.5" class="c"/>
<path d="M1680.3 291.5 1698 291.5" class="c" stroke="#888"/>
<path d="M1698 291.5 1769.5 291.5 1769.5 297" class="c"/>
<path d="M1766.3 297 1772.1 297" class="c" stroke-width="1.8"/>
<path d="M1680.3 299.5 1698 299.5" class="c" stroke="#ccc"/>
<path d="M1698 299.5 1729.6 299.5" class="c"/>
<path d="M1729.5 299.3 1729.5 305.7" class="c"/>
<path d="M1723.6 305.5 1735.6 305.5" class="c"/>
<path d="M1723.6 308.5 1735.6 308.5" class="c"/>
<path d="M1729.5 308.4 1729.5 320.5" class="c"/>
<path d="M1726.6 320.5 1732.6 320.5" class="c"/>
<path d="M1680.3 330.5 1698 330.5" class="c" stroke="#888"/>
<path d="M1698 330.5 1842.5 330.5 1842.5 377" class="c"/>
<circle cx="1842.2" cy="354.5" r="1.5" fill="#231f20" stroke="none"/>
<path d="M1842.5 377 1842.5 377.2" class="c"/>
<path d="M1836.5 377.5 1848.5 377.5" class="c"/>
<path d="M1836.5 379.5 1848.5 379.5" class="c"/>
<path d="M1842.5 379.6 1842.5 391.4" class="c"/>
<path d="M1839.1 391.5 1845.9 391.5" class="c"/>
<path d="M1680.3 339.5 1698 339.5" class="c" stroke="#ccc"/>
<path d="M1698 339.5 1769.5 339.5 1769.5 346.5 1787.5 346.5" class="c"/>
<path d="M1787.5 343.5 1807.5 343.5 1807.5 350.5 1787.5 350.5Z" class="c"/>
<path d="M1807.7 346.5 1822.9 346.5" class="c"/>
<path d="M1822.5 343.7 1822.5 349.6" class="c"/>
<path d="M1842.5 354.5 1875.3 354.5" class="c"/>
<path d="M1875.5 351.5 1895.5 351.5 1895.5 357.5 1875.5 357.5Z" class="c"/>
<path d="M1895.7 354.5 1983.5 354.5 1983.5 318.5 2128.8 318.5 2136.1 326.3"/>
<path d="M1680.3 362.5 1698 362.5" class="c" stroke="#666"/>
<path d="M1698 362.5 1714.5 362.5 1714.5 368" class="c"/>
<path d="M1711.1 368 1716.9 368" class="c" stroke-width="1.8"/>
<path d="M2136.1 326.5 2225.1 326.5" class="c"/>
<path d="M2225.1 326.4 2232.6 322.5 2240.5 322.5 2240.5 330.5 2232.6 330.5Z" stroke-width="1.3"/>
<path d="M1680.3 386.5 1684.3 386.5" class="c" stroke="#ccc"/>
<path d="M1684.3 386.5 1722 386.5" class="c"/>
<path d="M1722 386.5 1726 386.5" class="c" stroke="#ccc"/>
<path d="M1725.2 384L1727.7 386L1725.2 388" stroke="#231f20" stroke-width="1.4" stroke-linejoin="round"/>
<path d="M1680.3 394.5 1698 394.5" class="c" stroke="#bbb"/>
<path d="M1698 394.5 1722 394.5" class="c"/>
<path d="M1722 394.5 1726 394.5" class="c" stroke="#ccc"/>
<path d="M1725.2 391.9L1727.7 393.9L1725.2 395.9" stroke="#231f20" stroke-width="1.4" stroke-linejoin="round"/>
<path d="M1680.3 410.5 1684.3 410.5" class="c" stroke="#ccc"/>
<path d="M1684.3 410.5 1722 410.5" class="c"/>
<path d="M1722 410.5 1726 410.5" class="c" stroke="#ccc"/>
<path d="M1725.2 407.9L1727.7 409.9L1725.2 411.9" stroke="#231f20" stroke-width="1.4" stroke-linejoin="round"/>
<path d="M1680.3 417.5 1698 417.5" class="c" stroke="#666"/>
<path d="M1698 417.5 1722 417.5" class="c"/>
<path d="M1722 417.5 1726 417.5" class="c" stroke="#888"/>
<path d="M1725.2 414.9L1727.7 416.9L1725.2 418.9" stroke="#231f20" stroke-width="1.4" stroke-linejoin="round"/>
<path d="M1680.3 425.5 1698 425.5" class="c" stroke="#666"/>
<path d="M1698 425.5 1722 425.5" class="c"/>
<path d="M1722 425.5 1726 425.5" class="c" stroke="#888"/>
<path d="M1725.2 423.1L1727.7 425.1L1725.2 427.1" stroke="#231f20" stroke-width="1.4" stroke-linejoin="round"/>
<path d="M1680.3 441.5 1698 441.5" class="c" stroke="#a8a8a8"/>
<path d="M1698 441.5 1714.5 441.5 1714.5 446.6" class="c"/>
<path d="M1711.1 447 1716.9 447" class="c" stroke-width="1.8"/>
<path d="M1680.3 465.5 1698 465.5" class="c" stroke="#bbb"/>
<path d="M1681.6 465.3l3.6 -2.1v4.2z" fill="#231f20" stroke="none"/>
<path d="M1698 465.5 1736.4 465.5" class="c"/>
<path d="M1736.5 459.5 1736.5 471.1" class="c"/>
<path d="M1738.5 459.5 1738.5 471.1" class="c"/>
<path d="M1738.9 465.5 1766.8 465.5" class="c"/>
<path d="M1766.8 462.5 1766.8 467.8" stroke-width="1.6"/>
<path d="M1680.3 476.5 1698 476.5" class="c" stroke="#999"/>
<path d="M1681.6 476.4l3.6 -2.1v4.2z" fill="#231f20" stroke="none"/>
<path d="M1698 476.5 1968.5 476.5 1968.5 417.5 2070.4 417.5" class="c"/>
<path d="M1679.3 488.5 1748.5 488.5" class="c" stroke-width="0.9" stroke="#444"/>
<path d="M1748.5 488.6 L1752.4 486.7 L1754.2 487.6 L1756.5 485.6 L1758.6 487.6 L1760.6 485.6 L1762.7 487.6 L1764.9 485.6 L1768 488.6" stroke="#666" stroke-width="0.95" stroke-linejoin="round"/>
<path d="M1748.5 481.5 1768 481.5" class="c" stroke-width="0.9" stroke="#666"/>
<path d="M1768 488.5 2203.7 488.5" class="c" stroke-width="0.9" stroke="#444"/>
<path d="M2203.7 488.6 2210.5 482 2210.5 409.7" stroke-width="1.2"/>
<path d="M2070 408 2110 408 2110 427 2070 427Z" class="c" stroke-width="2"/>
<path d="M2110.5 417.5 2152.5 417.5" class="c"/>
<circle cx="2135.4" cy="417.6" r="1.2" fill="#fff" stroke="#231f20" stroke-width="0.8"/>
<path d="M2135.5 418.8 2135.5 432.7" class="c" stroke="#333"/>
<path d="M2129.6 432.5 2141.2 432.5" class="c" stroke="#777"/>
<path d="M2129.6 435.5 2141.2 435.5" class="c" stroke="#333"/>
<path d="M2135.5 435.1 2135.5 454.5" class="c" stroke="#333"/>
<path d="M2132 454.5 2138.8 454.5" class="c"/>
<path d="M2152.5 414.5 2172.5 414.5 2172.5 421.5 2152.5 421.5Z" class="c"/>
<path d="M2172 417.5 2203 417.5 2210.7 409.7"/>
<circle cx="2210.7" cy="409.7" r="1.5" fill="#231f20" stroke="none"/>
<path d="M2210.7 409.5 2244.8 409.5" class="c"/>
<path d="M2244.8 409.7 2252.3 405.5 2260.5 405.5 2260.5 413.5 2252.3 413.5Z" stroke-width="1.3"/>
<path d="M2094.5 427.1 2094.5 454.5" class="c"/>
<path d="M2090.9 454.5 2097.1 454.5" class="c"/>
<rect x="2269" y="506" width="1" height="1" fill="#222" stroke="none"/>
<path d="M1680.3 512.5 1698 512.5" class="c" stroke="#a8a8a8"/>
<path d="M1698 512.5 1745.5 512.5 1745.5 519.1" class="c"/>
<path d="M1739.4 519.5 1751.4 519.5" class="c"/>
<path d="M1739.4 521.5 1751.4 521.5" class="c"/>
<path d="M1745.5 521.7 1745.5 528.5 1738.5 528.5 1738.5 520.5 1698 520.5" class="c"/>
<path d="M1680.3 520.5 1698 520.5" class="c" stroke="#888"/>
<path d="M1680.3 528.5 1698 528.5" class="c" stroke="#a8a8a8"/>
<path d="M1698 528.5 1714.5 528.5 1714.5 534.4" class="c"/>
<path d="M1708.7 534.5 1720.7 534.5" class="c"/>
<path d="M1708.7 537.5 1720.7 537.5" class="c"/>
<path d="M1714.5 537.4 1714.5 544.5 1706.5 544.5 1706.5 536.5 1698 536.5" class="c"/>
<path d="M1680.3 536.5 1698 536.5" class="c" stroke="#888"/>
<path d="M1680.3 559.5 1698 559.5" class="c" stroke="#a8a8a8"/>
<path d="M1698 559.5 1745.5 559.5 1745.5 566.5" class="c"/>
<path d="M1739.4 566.5 1751.4 566.5" class="c"/>
<path d="M1739.4 569.5 1751.4 569.5" class="c"/>
<path d="M1745.5 569.2 1745.5 575.5 1738.5 575.5 1738.5 567.5 1698 567.5" class="c"/>
<path d="M1680.3 567.5 1698 567.5" class="c" stroke="#888"/>
<path d="M1680.3 575.5 1698 575.5" class="c" stroke="#a8a8a8"/>
<path d="M1698 575.5 1714.5 575.5 1714.5 582.2" class="c"/>
<path d="M1708.7 582.5 1720.7 582.5" class="c"/>
<path d="M1708.7 584.5 1720.7 584.5" class="c"/>
<path d="M1714.5 584.6 1714.5 591.5 1706.5 591.5 1706.5 583.5 1698 583.5" class="c"/>
<path d="M1680.3 583.5 1698 583.5" class="c" stroke="#888"/>
<path d="M1680.3 607.5 1698 607.5" class="c" stroke="#a8a8a8"/>
<path d="M1698 607.5 1903.5 607.5 1903.5 584.5 2126.7 584.5" class="c"/>
<path d="M2126.7 584.5 2134.7 576.7"/>
<path d="M1680.3 615.5 1698 615.5" class="c" stroke="#a8a8a8"/>
<path d="M1698 615.5 1911.5 615.5 1911.5 599.5 2126.7 599.5" class="c"/>
<path d="M2126.7 599.7 2134.7 591.9"/>
<path d="M1680.3 623.5 1698 623.5" class="c" stroke="#ccc"/>
<path d="M1698 623.5 1982.5 623.5 1982.5 615.5 2126.7 615.5" class="c"/>
<path d="M2126.7 615.5 2134.7 605.8"/>
<circle cx="2134.5" cy="606" r="1.3" fill="#231f20" stroke="none"/>
<path d="M1680.3 630.5 1698 630.5" class="c" stroke="#999"/>
<path d="M1698 630.5 2127.5 630.5" class="c"/>
<path d="M2127.5 630.5 2134.7 622.5"/>
<circle cx="2134.5" cy="622.8" r="1.5" fill="#231f20" stroke="none"/>
<path d="M2111 642.5 2126.7 642.5" class="c" stroke-width="0.9"/>
<path d="M2126.7 642.4 2134.7 634.6"/>
<circle cx="2134.5" cy="634.9" r="1.5" fill="#231f20" stroke="none"/>
<path d="M1680.3 654.5 1698 654.5" class="c" stroke="#a8a8a8"/>
<path d="M1698 654.5 2127.5 654.5" class="c"/>
<path d="M2127.5 654.6 2134.7 646.4"/>
<circle cx="2134.5" cy="646.7" r="1.5" fill="#231f20" stroke="none"/>
<path d="M1680.3 662.5 1698 662.5" class="c" stroke="#666"/>
<path d="M1698 662.5 1935.5 662.5 1935.5 670.5 2125.8 670.5" class="c"/>
<path d="M2125.8 670.3 2133.8 661.6"/>
<circle cx="2133.6" cy="661.8" r="1.3" fill="#231f20" stroke="none"/>
<path d="M1680.3 670.5 1698 670.5" class="c" stroke="#888"/>
<path d="M1698 670.5 1927.5 670.5 1927.5 686.5 2125.8 686.5" class="c"/>
<path d="M2125.8 686.3 2133.4 678.9"/>
<circle cx="2133.2" cy="679.1" r="1.3" fill="#231f20" stroke="none"/>
<path d="M1680.3 678.5 1698 678.5" class="c" stroke="#a8a8a8"/>
<path d="M1698 678.5 1919.5 678.5 1919.5 701.5 2125.8 701.5" class="c"/>
<path d="M2125.8 701.5 2133.1 694.2"/>
<circle cx="2132.9" cy="694.4" r="1.3" fill="#231f20" stroke="none"/>
<path d="M1680.3 694.5 1698 694.5" class="c" stroke="#a8a8a8"/>
<path d="M1698 694.5 1864.5 694.5 1864.5 725.5 2125.6 725.5" class="c"/>
<path d="M2125.6 725.3 2132.9 717.7"/>
<path d="M2134.5 576.6 2134.5 647.1 2132.9 717.7" stroke-width="1.3"/>
<path d="M2134.7 641.3 2184.7 641.3" stroke-width="1.7"/>
<path d="M2184.7 636.7 2192.5 636.7 2201 641.1 2192.5 645.5 2184.7 645.5Z" stroke-width="1.5"/>
<path d="M2054.3 579.2 2060.2 583.9" stroke-width="0.9"/>
<circle cx="2054.6" cy="579.5" r="0.7" fill="#231f20" stroke="none"/>
<circle cx="2059.8" cy="583.8" r="0.9" fill="#231f20" stroke="none"/>
<path d="M2054.3 610.3 2060.2 615" stroke-width="0.9"/>
<circle cx="2054.6" cy="610.6" r="0.7" fill="#231f20" stroke="none"/>
<circle cx="2059.8" cy="614.9" r="0.9" fill="#231f20" stroke="none"/>
<path d="M1680.3 717.5 1698 717.5" class="c" stroke="#888"/>
<path d="M1698 717.5 1840.5 717.5 1840.5 749.5 2151.9 749.5 2159.3 757"/>
<path d="M1680.3 725.5 1698 725.5" class="c" stroke="#a8a8a8"/>
<path d="M1698 725.5 1832.5 725.5 1832.5 764.5 2151.4 764.5 2158.4 771.8"/>
<path d="M1680.3 733.5 1698 733.5" class="c" stroke="#666"/>
<path d="M1698 733.5 1824.5 733.5 1824.5 780.5 2150.5 780.5 2158.4 788.7"/>
<path d="M1680.3 741.5 1698 741.5" class="c" stroke="#a8a8a8"/>
<path d="M1698 741.5 1816.5 741.5 1816.5 796.5 2150.5 796.5 2158.4 804"/>
<path d="M2095.3 811.5 2150.5 811.5" class="c" stroke="#999"/>
<path d="M2150.5 811.6 2158.9 819.3"/>
<path d="M2159 757 2159 819.3" class="c" stroke-width="1.9"/>
<path d="M2159.3 789.5 2194.3 789.5" class="c" stroke-width="1.2"/>
<path d="M2194.3 785.1 2202.1 785.1 2210.6 789.5 2202.1 793.9 2194.3 793.9Z" stroke-width="1.4"/>
<path d="M1680.3 788.5 1698 788.5" class="c" stroke="#888"/>
<path d="M1698 788.5 1800.5 788.5 1800.5 820.5 1991.8 820.5" class="c"/>
<path d="M1991.8 815.9 1999.6 815.9 2008.1 820.3 1999.6 824.7 1991.8 824.7Z" stroke-width="1.6"/>
<path d="M1680.3 812.5 1698 812.5" class="c" stroke="#bbb"/>
<path d="M1698 812.5 1785.5 812.5 1785.5 835.5 2171.1 835.5 2178.6 827.5"/>
<circle cx="2178.4" cy="827.7" r="1.4" fill="#231f20" stroke="none"/>
<path d="M1680.3 820.5 1698 820.5" class="c" stroke="#888"/>
<path d="M1698 820.5 1777.5 820.5 1777.5 851.5 2171.6 851.5 2178.6 844.4"/>
<path d="M2178.5 844.4 2178.5 820.5 2196.4 820.5" class="c"/>
<path d="M2196.4 816.6 2204.2 816.6 2212.7 821 2204.2 825.4 2196.4 825.4Z" stroke-width="1.5"/>
<path d="M1680.3 828.5 1698 828.5" class="c" stroke="#ccc"/>
<path d="M1698 828.5 1745.5 828.5 1745.5 867.5 1872.3 867.5" class="c"/>
<path d="M1872.5 863.5 1894.5 863.5 1894.5 870.5 1872.5 870.5Z" class="c" stroke="#999"/>
<path d="M1897 867.5 1929.7 867.5" class="c"/>
<path d="M1929.5 861.2 1929.5 873.7" class="c"/>
<path d="M1932.5 861.2 1932.5 873.7" class="c"/>
<path d="M1932.3 867.5 1990.5 867.5" class="c"/>
<path d="M1990.5 862.8 1998.3 862.8 2006.8 867.2 1998.3 871.6 1990.5 871.6Z" stroke-width="1.6"/>
<circle cx="1905.3" cy="867.5" r="1.5" fill="#231f20" stroke="none"/>
<circle cx="1956.4" cy="867.5" r="1.5" fill="#231f20" stroke="none"/>
<path d="M1905.5 867.5 1905.5 891.2" class="c"/>
<path d="M1899 891.5 1911.6 891.5" class="c"/>
<path d="M1899 894.5 1911.6 894.5" class="c"/>
<path d="M1905.5 894.6 1905.5 910.4" class="c"/>
<path d="M1956.5 867.5 1956.5 877.6" class="c"/>
<path d="M1956.4 877.6 q-4.8 2.7 0 5.4 q-4.8 2.7 0 5.4 q-4.8 2.7 0 5.4 q-4.8 2.7 0 5.4" stroke="#555" stroke-width="0.95"/>
<path d="M1956.5 899.3 1956.5 910.4" class="c"/>
<path d="M1905.3 910.5 1956.4 910.5" class="c"/>
<circle cx="1930.4" cy="909.8" r="1.5" fill="#231f20" stroke="none"/>
<path d="M1930.5 910.4 1930.5 933.4" class="c"/>
<path d="M1927.1 933.5 1933.7 933.5" class="c"/>
<path d="M835.5 829.5 872.5 829.5 872.5 857.5 835.5 857.5Z" class="c"/>
<path d="M836 829.4 836 857.3" class="c" stroke-width="2"/>
<path d="M838.5 857.3 838.5 867" class="c" stroke="#bbb"/>
<path d="M838.5 867 838.5 880.5" class="c"/>
<path d="M835.1 880.5 841.5 880.5" class="c"/>
<path d="M846.5 857.3 846.5 867" class="c" stroke="#bbb"/>
<path d="M846.5 867 846.5 880.5" class="c"/>
<path d="M843.1 880.5 849.5 880.5" class="c"/>
<path d="M854.5 857.3 854.5 867" class="c" stroke="#bbb"/>
<path d="M854.5 867 854.5 880.5" class="c"/>
<path d="M851.1 880.5 857.5 880.5" class="c"/>
<path d="M861.5 857.3 861.5 867" class="c" stroke="#bbb"/>
<path d="M861.5 867 861.5 880.5" class="c"/>
<path d="M858.7 880.5 865.1 880.5" class="c"/>
<path d="M870.5 857.3 870.5 867" class="c" stroke="#bbb"/>
<path d="M870.5 867 870.5 880.5" class="c"/>
<path d="M867.1 880.5 873.5 880.5" class="c"/>
<path d="M872.6 844.5 972.5 844.5 972.5 891.5 988 891.5" class="c"/>
<path d="M988 891.5 997.4 891.5" class="c" stroke="#777"/>
<path d="M780.5 924.5 825.5 924.5 825.5 952.5 780.5 952.5Z" class="c"/>
<path d="M825 924.5 825 952.5" class="c" stroke-width="2"/>
<path d="M783.5 952.5 783.5 975.5" class="c"/>
<path d="M780.3 975.5 786.7 975.5" class="c"/>
<path d="M791.5 952.5 791.5 975.5" class="c"/>
<path d="M788.3 975.5 794.7 975.5" class="c"/>
<path d="M799.5 952.5 799.5 975.5" class="c"/>
<path d="M796.3 975.5 802.7 975.5" class="c"/>
<path d="M807.5 952.5 807.5 975.5" class="c"/>
<path d="M803.8 975.5 810.2 975.5" class="c"/>
<path d="M815.5 952.5 815.5 975.5" class="c"/>
<path d="M811.8 975.5 818.2 975.5" class="c"/>
<path d="M822.5 952.5 822.5 975.5" class="c"/>
<path d="M819.5 975.5 825.9 975.5" class="c"/>
<path d="M825.4 938.5 988 938.5" class="c"/>
<path d="M988 938.5 997.4 938.5" class="c" stroke="#999"/>
<path d="M375.8 943 383.6 943 392.1 947.4 383.6 951.8 375.8 951.8Z" stroke-width="1.5"/>
<path d="M392 947.5 518 947.5" class="c"/>
<path d="M518 947.3 518 981.2" stroke-width="1.6"/>
<path d="M517.5 981.2 517.5 1024.5" class="c"/>
<circle cx="517.6" cy="981.4" r="1.2" fill="#231f20" stroke="none"/>
<path d="M517.8 1024.5 525 1017.5 832.5 1017.5"/>
<path d="M832.5 1014.5 852.5 1014.5 852.5 1020.5 832.5 1020.5Z" class="c"/>
<path d="M852.6 1017.5 870.5 1017.5" class="c"/>
<circle cx="791" cy="1017.3" r="1.1" fill="#231f20" stroke="none"/>
<path d="M791.5 1017.3 791.5 1039.3" class="c"/>
<path d="M785 1039.5 797 1039.5" class="c"/>
<path d="M785 1042.5 797 1042.5" class="c"/>
<path d="M791.5 1042.5 791.5 1070.3" class="c"/>
<path d="M788 1070 794 1070" class="c" stroke-width="1.8"/>
<circle cx="870.3" cy="1017.3" r="1.5" fill="#231f20" stroke="none"/>
<path d="M870.5 954.2 870.5 1035.6" class="c"/>
<path d="M866.5 1035.5 873.5 1035.5 873.5 1055.5 866.5 1055.5Z" class="c"/>
<path d="M870.5 1055.7 870.5 1070.5" class="c"/>
<path d="M867.2 1070.5 873.2 1070.5" class="c"/>
<path d="M997.5 860.5 1057.5 860.5 1057.5 1006.5 997.5 1006.5Z" class="c"/>
<path d="M997.4 861 1057.4 861" class="c" stroke-width="2"/>
<path d="M1030.5 863.4 1030.5 869.7 1023.7 866.5Z" stroke-width="0.8"/>
<path d="M964.3 906.5 988 906.5" class="c"/>
<path d="M988 906.5 997.4 906.5" class="c" stroke="#888"/>
<path d="M964.3 922.5 988 922.5" class="c"/>
<path d="M988 922.5 997.4 922.5" class="c" stroke="#777"/>
<path d="M870.5 954.5 988 954.5" class="c"/>
<path d="M988 954.5 997.4 954.5" class="c" stroke="#ccc"/>
<path d="M933.6 970.5 997.4 970.5" class="c"/>
<path d="M933.5 970.5 933.5 1199.5 957.5 1199.5 957.5 1238.5 981.4 1238.5" class="c"/>
<path d="M948.5 986.5 988 986.5" class="c"/>
<path d="M988 986.5 997.4 986.5" class="c" stroke="#ccc"/>
<path d="M948.5 986.5 948.5 1135.5 853.3 1135.5" class="c"/>
<path d="M909.4 1001.5 988 1001.5" class="c"/>
<path d="M988 1001.5 997.4 1001.5" class="c" stroke="#bbb"/>
<circle cx="909.4" cy="1001.7" r="1.5" fill="#231f20" stroke="none"/>
<path d="M906.4 988.6L908.9 985.9L911.4 988.6" stroke="#231f20" stroke-width="1.5" stroke-linejoin="miter"/>
<path d="M909.5 986.8 909.5 992" class="c" stroke="#bbb"/>
<path d="M909.5 992 909.5 1001.7" class="c"/>
<path d="M909.5 1001.7 909.5 1016.5" class="c"/>
<path d="M903.8 1016.5 915 1016.5" class="c"/>
<path d="M903.8 1018.5 915 1018.5" class="c"/>
<path d="M909.5 1018.7 909.5 1038.4" class="c"/>
<path d="M906.2 1038.5 912.6 1038.5" class="c"/>
<path d="M948.5 889.4 948.5 883.5 964.5 883.5 964.5 1025.5 1082.5 1025.5" class="c"/>
<path d="M948.5 889.5 948.5 889.5" class="c" stroke="#555"/>
<path d="M942.6 889.5 954.6 889.5" class="c" stroke="#999"/>
<path d="M942.6 892.5 954.6 892.5" class="c" stroke="#555"/>
<path d="M948.5 892 948.5 904.2" class="c" stroke="#555"/>
<path d="M945.6 904.5 951.6 904.5" class="c"/>
<circle cx="964.3" cy="906.3" r="1.5" fill="#231f20" stroke="none"/>
<circle cx="964.3" cy="915" r="1.6" fill="#231f20" stroke="none"/>
<circle cx="964.3" cy="922.5" r="1.5" fill="#231f20" stroke="none"/>
<path d="M964.3 915.5 948.5 915.5 948.5 921.5" class="c"/>
<path d="M948.5 921.5 948.5 921.5" class="c"/>
<path d="M942.6 921.5 954.6 921.5" class="c"/>
<path d="M942.6 924.5 954.6 924.5" class="c"/>
<path d="M948.5 924.4 948.5 936" class="c"/>
<path d="M945.6 936 951.6 936" class="c" stroke-width="1.8"/>
<path d="M1057.4 875.5 1075.5 875.5 1075.5 896.2" class="c"/>
<path d="M1072.2 896.5 1078.2 896.5" class="c"/>
<path d="M1057.4 891.5 1066.6 891.5" class="c" stroke="#999"/>
<path d="M1066.6 891.5 1075.7 891.5" class="c"/>
<circle cx="1075.5" cy="891.3" r="1.4" fill="#231f20" stroke="none"/>
<path d="M1057.4 906.5 1099.5 906.5 1099.5 1073.5 948.5 1073.5" class="c"/>
<circle cx="948.5" cy="1073.2" r="1.4" fill="#231f20" stroke="none"/>
<path d="M1057.4 922.5 1066.6 922.5" class="c" stroke="#666"/>
<path d="M1057.4 938.5 1066.6 938.5" class="c" stroke="#ccc"/>
<path d="M1066.6 938.5 1138.2 938.5" class="c"/>
<circle cx="1137.8" cy="938.6" r="1.2" fill="#231f20" stroke="none"/>
<path d="M1135.4 927.2L1137.9 924.5L1140.4 927.2" stroke="#231f20" stroke-width="1.5" stroke-linejoin="miter"/>
<path d="M1138.5 925.4 1138.5 930.6" class="c" stroke="#bbb"/>
<path d="M1138.5 930.6 1138.5 938.6" class="c"/>
<path d="M1138.5 938.6 1138.5 945.2" class="c"/>
<path d="M1132.3 945.5 1144.1 945.5" class="c"/>
<path d="M1132.3 947.5 1144.1 947.5" class="c"/>
<path d="M1138.5 947.7 1138.5 960" class="c"/>
<path d="M1135.2 960 1141.2 960" class="c" stroke-width="1.8"/>
<path d="M1057.4 954.5 1066.6 954.5" class="c" stroke="#ccc"/>
<path d="M1066.6 954.5 1106.5 954.5 1106.5 977.5 1256.4 977.5" class="c"/>
<path d="M1057.4 970.5 1066.6 970.5" class="c" stroke="#ccc"/>
<path d="M1066.6 970.5 1083.5 970.5 1083.5 1268.3" class="c"/>
<path d="M1057.4 986.5 1066.6 986.5" class="c" stroke="#ccc"/>
<path d="M1066.6 986.5 1083.5 986.5" class="c"/>
<circle cx="1082.6" cy="985.6" r="1.4" fill="#231f20" stroke="none"/>
<path d="M1057.4 1001.5 1066.6 1001.5" class="c" stroke="#ccc"/>
<path d="M1066.6 1001.5 1256.4 1001.5" class="c"/>
<circle cx="1082.6" cy="1025.5" r="1.4" fill="#231f20" stroke="none"/>
<path d="M1256.5 969.5 1327.5 969.5 1327.5 1012.5 1256.5 1012.5Z" class="c"/>
<path d="M1256.4 970 1327.6 970" class="c" stroke-width="2"/>
<path d="M1280.5 1012.5 1280.5 1030.8" class="c"/>
<path d="M1277.5 1031 1283.5 1031" class="c" stroke-width="1.8"/>
<path d="M1288.5 1012.5 1288.5 1030.8" class="c"/>
<path d="M1285.5 1031 1291.5 1031" class="c" stroke-width="1.8"/>
<path d="M1295.5 1012.5 1295.5 1030.8" class="c"/>
<path d="M1292.6 1031 1298.6 1031" class="c" stroke-width="1.8"/>
<path d="M1304.5 1012.5 1304.5 1030.8" class="c"/>
<path d="M1301.4 1031 1307.4 1031" class="c" stroke-width="1.8"/>
<path d="M1327.6 977.5 1343.5 977.5 1343.5 583.5 1599 583.5" class="c"/>
<path d="M1327.6 986.5 1351.5 986.5 1351.5 591.5 1599 591.5" class="c"/>
<path d="M1327.6 1001.5 1366.5 1001.5 1366.5 970.5 1406.5 970.5 1406.5 559.5 1599 559.5" class="c"/>
<path d="M1327.6 1009.5 1422.5 1009.5 1422.5 567.5 1599 567.5" class="c"/>
<circle cx="1398.5" cy="970.2" r="1.5" fill="#231f20" stroke="none"/>
<circle cx="1398.5" cy="1009.4" r="1.5" fill="#231f20" stroke="none"/>
<path d="M1398.5 970.5 1398.5 980.2" class="c"/>
<path d="M1398.5 980.2 q-4.8 2.5 0 5 q-4.8 2.5 0 5 q-4.8 2.5 0 5 q-4.8 2.5 0 5" stroke="#555" stroke-width="0.95"/>
<path d="M1398.5 1000.4 1398.5 1009.4" class="c"/>
<path d="M1599 488.5 1446.5 488.5 1446.5 1112.5 933.6 1112.5" class="c"/>
<circle cx="933.2" cy="1112" r="1.2" fill="#231f20" stroke="none"/>
<path d="M310 1202.2 317.8 1202.2 326.3 1206.6 317.8 1211 310 1211Z" stroke-width="1.4"/>
<path d="M326.3 1206.5 743.5 1206.5 743.5 1135.5 831.5 1135.5" class="c"/>
<path d="M831.5 1135.5 L835.9 1133.5 L837.8 1134.5 L840.4 1132.5 L842.8 1134.5 L845 1132.5 L847.4 1134.5 L849.8 1132.5 L853.3 1135.5" stroke="#555" stroke-width="0.95" stroke-linejoin="round"/>
<path d="M833 1130.5 851.8 1130.5" class="c" stroke-width="0.9" stroke="#666"/>
<circle cx="743.7" cy="1167.5" r="1.2" fill="#fff" stroke="#231f20" stroke-width="0.8"/>
<path d="M745 1167.5 775.8 1167.5" class="c"/>
<path d="M775.8 1167.5 L780.3 1165.5 L782.4 1166.5 L785.1 1164.5 L787.6 1166.5 L789.8 1164.5 L792.3 1166.5 L794.8 1164.5 L798.4 1167.5" stroke="#555" stroke-width="0.95" stroke-linejoin="round"/>
<path d="M777.3 1162.5 796.9 1162.5" class="c" stroke-width="0.9" stroke="#666"/>
<path d="M798.4 1167.5 964.5 1167.5 964.5 1222.5 981.4 1222.5" class="c"/>
<circle cx="822.5" cy="1167.5" r="1.5" fill="#231f20" stroke="none"/>
<path d="M822.5 1167.5 822.5 1181.5" class="c"/>
<path d="M816.5 1181.5 828.5 1181.5" class="c"/>
<path d="M816.5 1184.5 828.5 1184.5" class="c"/>
<path d="M822.5 1184.5 822.5 1204.5" class="c"/>
<path d="M819.5 1204.5 825.5 1204.5" class="c"/>
<circle cx="964.5" cy="1206.4" r="1.5" fill="#231f20" stroke="none"/>
<path d="M964.5 1206.5 981.4 1206.5" class="c"/>
<circle cx="940.5" cy="1199" r="1.4" fill="#231f20" stroke="none"/>
<path d="M940.5 1199.4 940.5 1215" class="c"/>
<path d="M940.5 1215 940.5 1221.7" class="c" stroke="#666"/>
<path d="M934.5 1221.5 946.5 1221.5" class="c" stroke="#888"/>
<path d="M934.5 1224.5 946.5 1224.5" class="c" stroke="#666"/>
<path d="M940.5 1224.3 940.5 1243.4" class="c" stroke="#666"/>
<path d="M937.5 1243.5 943.5 1243.5" class="c"/>
<path d="M981.5 1189.5 1034.5 1189.5 1034.5 1257.5 981.5 1257.5Z" class="c"/>
<path d="M1035 1189.3 1035 1257 981.4 1257" class="c" stroke-width="2"/>
<path d="M1034.6 1206.5 1043 1206.5" class="c" stroke="#999"/>
<path d="M1043 1206.5 1052 1206.5" class="c"/>
<path d="M1052 1206.4 L1056.4 1204.5 L1058.3 1205.4 L1060.9 1203.4 L1063.3 1205.4 L1065.5 1203.4 L1067.9 1205.4 L1070.3 1203.4 L1073.8 1206.4" stroke="#555" stroke-width="0.95" stroke-linejoin="round"/>
<path d="M1073.8 1206.5 1106.5 1206.5 1106.5 1213.4" class="c"/>
<circle cx="1082.8" cy="1206.4" r="1.5" fill="#231f20" stroke="none"/>
<path d="M1106.5 1213.5 1106.5 1213.5" class="c"/>
<path d="M1101.1 1213.5 1112.1 1213.5" class="c"/>
<path d="M1101.1 1216.5 1112.1 1216.5" class="c"/>
<path d="M1106.5 1216.4 1106.5 1228.4" class="c"/>
<path d="M1103.2 1228.5 1110 1228.5" class="c"/>
<path d="M1034.6 1222.5 1051.5 1222.5 1051.5 1228.4" class="c"/>
<path d="M1048 1228.5 1054 1228.5" class="c"/>
<path d="M1034.6 1238.5 1051.5 1238.5 1051.5 1243.4" class="c"/>
<path d="M1048 1243.5 1054 1243.5" class="c"/>
<path d="M1034.6 1254.5 1083.5 1254.5" class="c"/>
<circle cx="1082.6" cy="1254" r="1.2" fill="#231f20" stroke="none"/>
<path d="M1083.5 1254.3 1083.5 1268.3" class="c"/>
<path d="M1077.5 1268.5 1089.5 1268.5" class="c"/>
<path d="M1077.5 1271.5 1089.5 1271.5" class="c"/>
<path d="M1083.5 1271.5 1083.5 1291" class="c"/>
<path d="M1080.5 1291 1086.5 1291" class="c" stroke-width="1.8"/>
<path d="M981.4 1254.5 838.5 1254.5 838.5 1240" class="c"/>
<path d="M835.4 1235.2L837.9 1232.5L840.4 1235.2" stroke="#231f20" stroke-width="1.5" stroke-linejoin="miter"/>
<path d="M838.5 1233.4 838.5 1238.6" class="c" stroke="#bbb"/>
<path d="M838.5 1238.6 838.5 1241" class="c"/>
<circle cx="901.3" cy="1254" r="1.2" fill="#231f20" stroke="none"/>
<path d="M901.5 1254.3 901.5 1279.6" class="c"/>
<path d="M898.5 1279.5 904.5 1279.5 904.5 1299.5 898.5 1299.5Z" class="c"/>
<path d="M901.5 1299.4 901.5 1314.5" class="c"/>
<path d="M898 1314.5 904 1314.5" class="c"/>
<rect x="0" y="1684" width="1184" height="1" fill="#000" stroke="none"/>
<rect x="1237" y="1684.3" width="1" height="0.7" fill="#555" stroke="none"/>
<rect x="1247" y="1684.3" width="16" height="0.7" fill="#555" stroke="none"/>
<rect x="1271" y="1684.3" width="22" height="0.7" fill="#555" stroke="none"/>
<rect x="1296" y="1684.3" width="8" height="0.7" fill="#555" stroke="none"/>
<rect x="1311" y="1684.3" width="1" height="0.7" fill="#555" stroke="none"/>
<rect x="1319" y="1684.3" width="1" height="0.7" fill="#555" stroke="none"/>
<rect x="1332" y="1684.3" width="5" height="0.7" fill="#555" stroke="none"/>
<rect x="1346" y="1684.3" width="1" height="0.7" fill="#555" stroke="none"/>
<path d="M1580 441.5H1597.8" stroke="#fff" stroke-width="2.2"/>
<path d="M1580 441.5H1597.8" stroke="#ccc"/>
<path d="M1580 449.5H1597.8" stroke="#fff" stroke-width="2.2"/>
<path d="M1580 449.5H1597.8" stroke="#ccc"/>
<path d="M1580 457.5H1597.8" stroke="#fff" stroke-width="2.2"/>
<path d="M1580 457.5H1597.8" stroke="#ccc"/>
<path d="M1580 465.5H1597.8" stroke="#fff" stroke-width="2.2"/>
<path d="M1580 465.5H1597.8" stroke="#ccc"/>
<path d="M1580 473.5H1597.8" stroke="#fff" stroke-width="2.2"/>
<path d="M1580 473.5H1597.8" stroke="#ddd"/>
<path d="M1580 497.5H1597.8" stroke="#fff" stroke-width="2.2"/>
<path d="M1580 497.5H1597.8" stroke="#ccc"/>
<path d="M1580 583.5H1592" stroke="#fff" stroke-width="2.2"/>
<path d="M1580 583.5H1592" stroke="#ccc"/>
<path d="M1580 607.5H1592" stroke="#fff" stroke-width="2.2"/>
<path d="M1580 607.5H1592" stroke="#ccc"/>
<path d="M1580 615.5H1592" stroke="#fff" stroke-width="2.2"/>
<path d="M1580 615.5H1592" stroke="#aaa"/>
<path d="M1580 654.5H1597.8" stroke="#fff" stroke-width="2.2"/>
<path d="M1580 654.5H1597.8" stroke="#ccc"/>
<path d="M1580 283.5H1597.8" stroke="#fff" stroke-width="2.2"/>
<path d="M1580 283.5H1597.8" stroke="#aaa"/>
<path d="M1580 370.5H1597.8" stroke="#fff" stroke-width="2.2"/>
<path d="M1580 370.5H1597.8" stroke="#bbb"/>
<path d="M1580 378.5H1597.8" stroke="#fff" stroke-width="2.2"/>
<path d="M1580 378.5H1597.8" stroke="#bbb"/>
<path d="M1580 488.5H1597.8" stroke="#fff" stroke-width="2.2"/>
<path d="M1580 488.5H1597.8" stroke="#555"/>
<path d="M1599 220.4 1599 831.3" class="c" stroke-width="2"/>
<path d="M1679 220.4 1679 831.3" class="c" stroke-width="2"/>
</svg></body></html>
